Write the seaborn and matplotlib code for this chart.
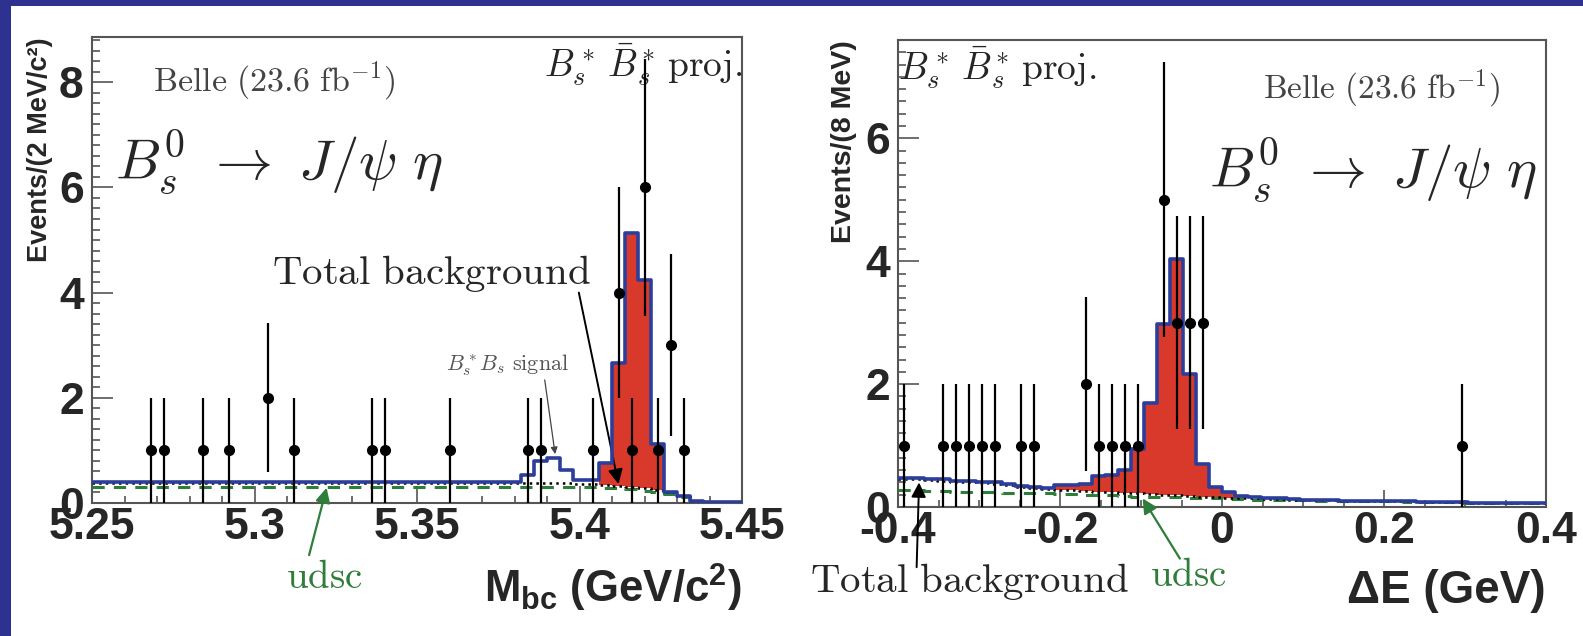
import numpy as np
import pandas as pd
import matplotlib
matplotlib.use("Agg")
import matplotlib.pyplot as plt
from matplotlib.patches import Rectangle
from matplotlib.ticker import MultipleLocator
import seaborn as sns

# M_bc projection, steps of 4 MeV from 5.25 to 5.45 (50 bins)
mbc_total = [0.39] * 33 + [0.53, 0.79, 0.85, 0.63, 0.44, 0.44, 0.76, 2.66, 5.13, 4.24,
                            1.12, 0.21, 0.14, 0.04, 0.01, 0.01, 0.01]
mbc_bkg = [0.38] * 37 + [0.37, 0.36, 0.35, 0.33, 0.31, 0.28, 0.24, 0.20, 0.13, 0.04,
                         0.01, 0.01, 0.01]
mbc_udsc = [0.31] * 37 + [0.30, 0.30, 0.29, 0.28, 0.26, 0.23, 0.20, 0.17, 0.11, 0.03,
                          0.01, 0.01, 0.01]
mbc_sig = [0.0] * 39 + [0.41, 2.33, 4.82, 3.96, 0.88] + [0.0] * 6
mbc_x = [5.268, 5.272, 5.284, 5.292, 5.304, 5.312, 5.336, 5.340, 5.360, 5.384, 5.388,
         5.404, 5.412, 5.416, 5.420, 5.424, 5.428, 5.432]
mbc_n = [1, 1, 1, 1, 2, 1, 1, 1, 1, 1, 1, 1, 4, 1, 6, 1, 3, 1]
mbc_ticks = [5.25, 5.30, 5.35, 5.40, 5.45]
mbc_ticklabels = ["5.25", "5.3", "5.35", "5.4", "5.45"]

# Delta E projection, steps of 16 MeV from -0.4 to 0.4 (50 bins)
de_total = [0.48, 0.47, 0.46, 0.45, 0.43, 0.42, 0.41, 0.40, 0.38, 0.34,
            0.32, 0.31, 0.35, 0.36, 0.37, 0.50, 0.52, 0.61, 0.94, 1.70,
            2.98, 4.04, 2.16, 0.70, 0.33, 0.25, 0.18, 0.17, 0.14, 0.14,
            0.13, 0.12, 0.12, 0.11, 0.10, 0.10, 0.10, 0.09, 0.09, 0.09,
            0.08, 0.08, 0.08, 0.08, 0.07, 0.07, 0.07, 0.07, 0.06, 0.06]
de_bkg = [0.46, 0.45, 0.44, 0.43, 0.41, 0.40, 0.39, 0.37, 0.35, 0.33,
          0.31, 0.29, 0.28, 0.27, 0.26, 0.25, 0.24, 0.23, 0.22, 0.21,
          0.20, 0.19, 0.18, 0.17, 0.16, 0.15, 0.14, 0.14, 0.13, 0.13,
          0.12, 0.12, 0.11, 0.11, 0.10, 0.10, 0.10, 0.09, 0.09, 0.09,
          0.08, 0.08, 0.08, 0.08, 0.07, 0.07, 0.07, 0.07, 0.06, 0.06]
de_udsc = [0.27, 0.27, 0.26, 0.26, 0.25, 0.25, 0.24, 0.24, 0.23, 0.23,
           0.22, 0.22, 0.21, 0.21, 0.20, 0.19, 0.19, 0.18, 0.17, 0.17,
           0.16, 0.16, 0.15, 0.15, 0.14, 0.13, 0.13, 0.12, 0.12, 0.11,
           0.11, 0.11, 0.10, 0.10, 0.10, 0.09, 0.09, 0.09, 0.09, 0.08,
           0.08, 0.08, 0.08, 0.07, 0.07, 0.07, 0.07, 0.06, 0.06, 0.06]
de_sig = [0.0] * 9 + [0.01, 0.01, 0.02, 0.07, 0.09, 0.11, 0.25, 0.28, 0.38, 0.72,
                      1.49, 2.78, 3.85, 1.98, 0.53, 0.17, 0.10, 0.04, 0.03] + [0.0] * 22
de_x = [-0.392, -0.344, -0.328, -0.312, -0.296, -0.280, -0.248, -0.232, -0.168,
        -0.152, -0.136, -0.120, -0.104, -0.072, -0.056, -0.040, -0.024, 0.296]
de_n = [1, 1, 1, 1, 1, 1, 1, 1, 2, 1, 1, 1, 1, 5, 3, 3, 3, 1]
de_ticks = [-0.4, -0.2, 0.0, 0.2, 0.4]
de_ticklabels = ["-0.4", "-0.2", "0", "0.2", "0.4"]

BLUE = "#2c3e9c"
RED = "#d9392b"
GREEN = "#2f7d3a"
FRAME = "#2d3190"

sns.set_style("white")
plt.rcParams["font.family"] = ["Liberation Sans", "DejaVu Sans"]
plt.rcParams["font.weight"] = "bold"
plt.rcParams["axes.labelweight"] = "bold"
plt.rcParams["axes.unicode_minus"] = False
plt.rcParams["mathtext.fontset"] = "custom"
plt.rcParams["mathtext.rm"] = "Liberation Sans:bold"
plt.rcParams["mathtext.it"] = "Liberation Sans:bold"
plt.rcParams["mathtext.bf"] = "Liberation Sans:bold"

fig = plt.figure(figsize=(15.83, 6.36), dpi=100)
fig.patch.set_facecolor(FRAME)
fig.add_artist(Rectangle((11 / 1583, 0), 1, 1 - 6 / 636, transform=fig.transFigure,
                         facecolor="white", edgecolor="none", zorder=-10))

ax1 = fig.add_axes([92 / 1583, 1 - 503 / 636, 650 / 1583, 466 / 636])
ax2 = fig.add_axes([898 / 1583, 1 - 507 / 636, 648 / 1583, 467 / 636])


def step_line(ax, centers, vals, edges, **kw):
    df = pd.DataFrame({"x": centers, "w": vals})
    sns.histplot(data=df, x="x", weights="w", bins=list(edges), element="step",
                 fill=False, ax=ax, **kw)


def draw_panel(ax, lo, hi, total, bkg, udsc, sig, xs, ns):
    edges = np.linspace(lo, hi, len(total) + 1)
    centers = 0.5 * (edges[:-1] + edges[1:])
    bkg = np.array(bkg)
    ax.stairs(bkg + np.array(sig), edges, baseline=bkg, fill=True,
              color=RED, zorder=2)
    step_line(ax, centers, udsc, edges, color=GREEN, linewidth=2.2,
              linestyle=(0, (4, 3)), zorder=3)
    step_line(ax, centers, bkg, edges, color="black", linewidth=1.8,
              linestyle=":", zorder=3)
    step_line(ax, centers, total, edges, color=BLUE, linewidth=2.6, zorder=4)
    ns = np.array(ns)
    ax.errorbar(xs, ns, yerr=np.sqrt(ns), fmt="o", color="black", ms=7,
                elinewidth=1.6, capsize=0, zorder=5)
    ax.set_xlim(lo, hi)


draw_panel(ax1, 5.25, 5.45, mbc_total, mbc_bkg, mbc_udsc, mbc_sig, mbc_x, mbc_n)
draw_panel(ax2, -0.4, 0.4, de_total, de_bkg, de_udsc, de_sig, de_x, de_n)
ax1.set_ylim(0, 8.86)
ax2.set_ylim(0, 7.6)

ax1.set_xticks(mbc_ticks)
ax1.set_xticklabels(mbc_ticklabels)
ax1.xaxis.set_minor_locator(MultipleLocator(0.01))
ax1.set_yticks([0, 2, 4, 6, 8])
ax2.set_xticks(de_ticks)
ax2.set_xticklabels(de_ticklabels)
ax2.xaxis.set_minor_locator(MultipleLocator(0.05))
ax2.set_yticks([0, 2, 4, 6])

for ax in (ax1, ax2):
    ax.yaxis.set_minor_locator(MultipleLocator(0.2))
    for s in ax.spines.values():
        s.set_visible(True)
        s.set_color("#555555")
        s.set_linewidth(1.5)
    ax.tick_params(which="both", direction="in", color="#555555", width=1.2,
                   top=False, right=False, bottom=True, left=True)
    ax.tick_params(axis="y", which="major", length=15, pad=6, labelsize=32)
    ax.tick_params(axis="y", which="minor", length=6)
    ax.tick_params(axis="x", which="major", length=12, pad=3, labelsize=32)
    ax.tick_params(axis="x", which="minor", length=5)

ax1.set_ylabel("Events/(2 MeV/c²)", loc="top", fontsize=19.5, fontweight="bold",
               labelpad=4)
ax2.set_ylabel("Events/(8 MeV)", loc="top", fontsize=20.5, fontweight="bold",
               labelpad=6)
ax1.set_xlabel(r"M$_{\mathrm{bc}}$ (GeV/c$^{\mathrm{2}}$)", loc="right", fontsize=31.5,
               fontweight="bold", labelpad=10)
ax2.set_xlabel("ΔE (GeV)", loc="right", fontsize=33, fontweight="bold", labelpad=12)

cm = dict(math_fontfamily="cm")
arrow = dict(arrowstyle="-|>", color="black", lw=1.4, shrinkA=0, shrinkB=0,
             mutation_scale=22)
green_arrow = dict(arrowstyle="-|>", color=GREEN, lw=1.6, shrinkA=0, shrinkB=0,
                   mutation_scale=22)
decay = r"$B_s^0\ \rightarrow\ J/\psi\ \eta$"
proj = r"$B_s^*\,\bar{B}_s^*\,\mathrm{proj.}$"
belle = r"$\mathrm{Belle\ (23.6\ fb}^{-1}\mathrm{)}$"

# left panel texts
ax1.text(0.094, 0.906, belle, transform=ax1.transAxes, fontsize=24.5, color="#444444",
         va="center", ha="left", **cm)
ax1.text(0.036, 0.73, decay, transform=ax1.transAxes, fontsize=41, va="center",
         ha="left", **cm)
ax1.text(1.0, 0.94, proj, transform=ax1.transAxes, fontsize=27, va="center",
         ha="right", **cm)
ax1.text(5.3546, 4.36, r"$\mathrm{Total\ background}$", fontsize=29.5, va="center",
         ha="center", **cm)
ax1.annotate("", xy=(5.4120, 0.36), xytext=(5.3998, 4.0), arrowprops=arrow)
ax1.text(5.3779, 2.62, r"$B_s^*B_s\ \mathrm{signal}$", fontsize=16, color="#555555",
         va="center", ha="center", **cm)
ax1.annotate("", xy=(5.3925, 0.93), xytext=(5.3893, 2.34),
             arrowprops=dict(arrowstyle="-|>", color="#444444", lw=0.9, shrinkA=0,
                             shrinkB=0, mutation_scale=10))
ax1.text(5.3214, -1.42, r"$\mathrm{udsc}$", fontsize=28, color=GREEN, va="center",
         ha="center", **cm)
ax1.annotate("", xy=(5.3222, 0.29), xytext=(5.3168, -0.99), annotation_clip=False,
             arrowprops=green_arrow)

# right panel texts
ax2.text(0.0, 0.94, proj, transform=ax2.transAxes, fontsize=27, va="center",
         ha="left", **cm)
ax2.text(0.564, 0.895, belle, transform=ax2.transAxes, fontsize=24, color="#444444",
         va="center", ha="left", **cm)
ax2.text(0.48, 0.72, decay, transform=ax2.transAxes, fontsize=41, va="center",
         ha="left", **cm)
ax2.text(-0.509, -1.22, r"$\mathrm{Total\ background}$", fontsize=29.5, va="center",
         ha="left", **cm)
ax2.annotate("", xy=(-0.374, 0.40), xytext=(-0.377, -0.98), annotation_clip=False,
             arrowprops=arrow)
ax2.text(-0.042, -1.12, r"$\mathrm{udsc}$", fontsize=28, color=GREEN, va="center",
         ha="center", **cm)
ax2.annotate("", xy=(-0.098, 0.14), xytext=(-0.052, -0.84), annotation_clip=False,
             arrowprops=green_arrow)

fig.savefig("out.png", dpi=100)
